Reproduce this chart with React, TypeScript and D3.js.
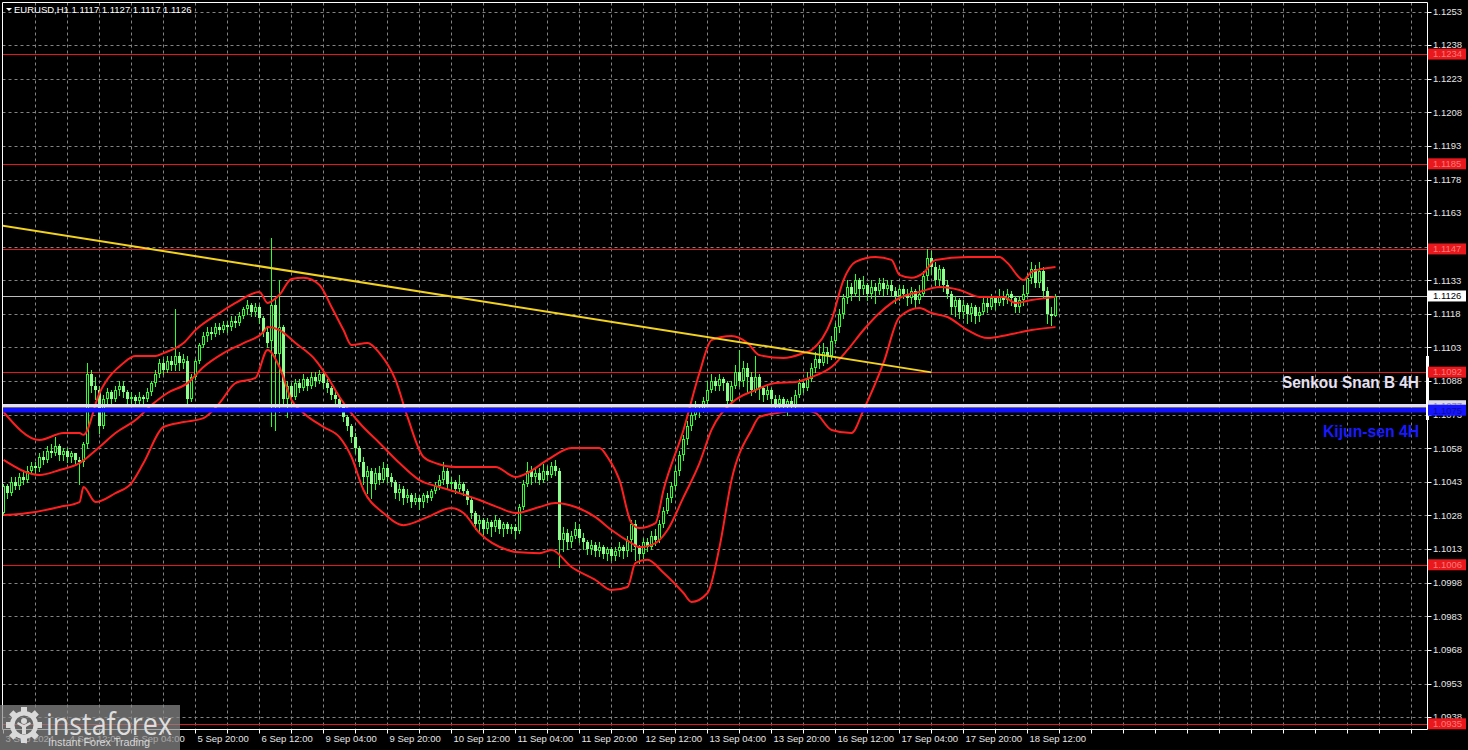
import React, { useEffect } from 'react';
import * as d3 from 'd3';

// ---------- DATA (EURUSD H1, bar index 0 = 3 Sep 20:00) ----------
const opens = [
1.1029,1.1041,1.1038,1.1043,1.1041,1.1045,1.1044,1.1048,1.1050,1.1049,
1.1054,1.1053,1.1057,1.1056,1.1059,1.1055,1.1057,1.1054,1.1056,1.1053,
1.1052,1.1060,1.1091,1.1086,1.1084,1.1068,1.1080,1.1083,1.1080,1.1084,
1.1086,1.1083,1.1080,1.1081,1.1079,1.1081,1.1080,1.1083,1.1087,1.1091,
1.1096,1.1093,1.1097,1.1095,1.1099,1.1096,1.1097,1.1080,1.1090,1.1097,
1.1104,1.1108,1.1110,1.1109,1.1112,1.1111,1.1113,1.1112,1.1115,1.1114,
1.1117,1.1120,1.1122,1.1119,1.1121,1.1116,1.1110,1.1106,1.1122,1.1100,
1.1112,1.1080,1.1086,1.1081,1.1087,1.1085,1.1089,1.1086,1.1090,1.1088,
1.1091,1.1087,1.1085,1.1082,1.1080,1.1077,1.1072,1.1068,1.1063,1.1058,
1.1052,1.1045,1.1048,1.1042,1.1047,1.1044,1.1049,1.1045,1.1043,1.1038,
1.1040,1.1036,1.1037,1.1034,1.1036,1.1034,1.1037,1.1036,1.1039,1.1041,
1.1044,1.1048,1.1042,1.1043,1.1040,1.1042,1.1039,1.1035,1.1029,1.1024,
1.1026,1.1022,1.1025,1.1023,1.1026,1.1022,1.1024,1.1022,1.1023,1.1021,
1.1032,1.1042,1.1048,1.1045,1.1047,1.1044,1.1048,1.1046,1.1050,1.1048,
1.1017,1.1020,1.1016,1.1019,1.1022,1.1018,1.1016,1.1013,1.1015,1.1012,
1.1014,1.1011,1.1013,1.1010,1.1012,1.1014,1.1012,1.1017,1.1024,1.1014,
1.1011,1.1016,1.1014,1.1019,1.1017,1.1024,1.1030,1.1036,1.1041,1.1048,
1.1055,1.1062,1.1068,1.1073,1.1076,1.1075,1.1079,1.1084,1.1088,1.1086,
1.1089,1.1087,1.1079,1.1086,1.1092,1.1088,1.1094,1.1090,1.1084,1.1090,
1.1085,1.1082,1.1084,1.1080,1.1078,1.1080,1.1077,1.1079,1.1077,1.1082,
1.1087,1.1085,1.1089,1.1094,1.1098,1.1096,1.1101,1.1099,1.1106,1.1112,
1.1118,1.1125,1.1130,1.1127,1.1133,1.1129,1.1131,1.1127,1.1130,1.1128,
1.1132,1.1129,1.1131,1.1128,1.1126,1.1129,1.1127,1.1125,1.1128,1.1124,
1.1127,1.1135,1.1143,1.1139,1.1133,1.1138,1.1131,1.1127,1.1121,1.1124,
1.1119,1.1122,1.1118,1.1121,1.1117,1.1119,1.1123,1.1121,1.1125,1.1123,
1.1126,1.1124,1.1127,1.1125,1.1121,1.1124,1.1127,1.1134,1.1138,1.1132,
1.1137,1.1128,1.1118,1.1117];

const highs = [
1.1042,1.1042,1.1045,1.1045,1.1047,1.1048,1.1050,1.1052,1.1052,1.1056,
1.1057,1.1059,1.1060,1.1063,1.1060,1.1058,1.1058,1.1057,1.1056,1.1054,
1.1061,1.1096,1.1093,1.1090,1.1086,1.1082,1.1085,1.1084,1.1086,1.1088,
1.1088,1.1084,1.1083,1.1082,1.1083,1.1082,1.1085,1.1088,1.1093,1.1098,
1.1098,1.1099,1.1099,1.1120,1.1101,1.1100,1.1099,1.1091,1.1098,1.1105,
1.1110,1.1112,1.1112,1.1114,1.1114,1.1115,1.1115,1.1117,1.1117,1.1119,
1.1121,1.1124,1.1123,1.1123,1.1122,1.1117,1.1112,1.1152,1.1125,1.1133,
1.1113,1.1088,1.1087,1.1089,1.1089,1.1091,1.1090,1.1092,1.1092,1.1093,
1.1092,1.1089,1.1086,1.1084,1.1081,1.1078,1.1073,1.1069,1.1065,1.1059,
1.1054,1.1050,1.1049,1.1049,1.1050,1.1052,1.1051,1.1047,1.1044,1.1042,
1.1041,1.1040,1.1038,1.1038,1.1037,1.1038,1.1039,1.1040,1.1043,1.1046,
1.1052,1.1049,1.1045,1.1044,1.1046,1.1043,1.1040,1.1036,1.1030,1.1028,
1.1027,1.1027,1.1026,1.1028,1.1027,1.1025,1.1025,1.1024,1.1024,1.1033,
1.1044,1.1052,1.1050,1.1049,1.1049,1.1051,1.1050,1.1052,1.1053,1.1049,
1.1023,1.1022,1.1021,1.1025,1.1024,1.1020,1.1017,1.1017,1.1016,1.1016,
1.1015,1.1014,1.1014,1.1014,1.1016,1.1015,1.1019,1.1026,1.1026,1.1015,
1.1018,1.1018,1.1021,1.1022,1.1026,1.1032,1.1038,1.1043,1.1050,1.1057,
1.1064,1.1070,1.1075,1.1079,1.1078,1.1081,1.1088,1.1091,1.1090,1.1091,
1.1090,1.1088,1.1088,1.1095,1.1102,1.1097,1.1096,1.1092,1.1099,1.1091,
1.1086,1.1086,1.1085,1.1082,1.1082,1.1081,1.1080,1.1081,1.1084,1.1089,
1.1089,1.1092,1.1096,1.1101,1.1104,1.1105,1.1103,1.1108,1.1114,1.1120,
1.1127,1.1133,1.1132,1.1136,1.1134,1.1135,1.1132,1.1133,1.1132,1.1134,
1.1134,1.1133,1.1133,1.1130,1.1131,1.1131,1.1129,1.1130,1.1129,1.1131,
1.1137,1.1147,1.1146,1.1141,1.1140,1.1139,1.1133,1.1128,1.1126,1.1125,
1.1124,1.1123,1.1123,1.1122,1.1121,1.1125,1.1125,1.1127,1.1126,1.1129,
1.1128,1.1129,1.1128,1.1126,1.1126,1.1131,1.1136,1.1141,1.1140,1.1141,
1.1139,1.1130,1.1121,1.1127];

const lows = [
1.1028,1.1036,1.1037,1.1040,1.1040,1.1042,1.1043,1.1047,1.1047,1.1048,
1.1051,1.1052,1.1054,1.1055,1.1053,1.1053,1.1052,1.1052,1.1051,1.1042,
1.1050,1.1058,1.1083,1.1080,1.1065,1.1067,1.1078,1.1078,1.1079,1.1082,
1.1081,1.1078,1.1078,1.1077,1.1078,1.1078,1.1079,1.1082,1.1086,1.1090,
1.1091,1.1092,1.1093,1.1093,1.1093,1.1094,1.1077,1.1079,1.1089,1.1096,
1.1103,1.1106,1.1107,1.1108,1.1109,1.1110,1.1110,1.1111,1.1112,1.1113,
1.1116,1.1118,1.1117,1.1117,1.1114,1.1108,1.1103,1.1068,1.1066,1.1074,
1.1077,1.1072,1.1078,1.1080,1.1083,1.1084,1.1084,1.1085,1.1086,1.1087,
1.1085,1.1083,1.1080,1.1078,1.1075,1.1070,1.1066,1.1061,1.1056,1.1050,
1.1042,1.1038,1.1036,1.1040,1.1042,1.1043,1.1043,1.1041,1.1036,1.1035,
1.1033,1.1034,1.1032,1.1033,1.1031,1.1032,1.1034,1.1035,1.1038,1.1040,
1.1042,1.1040,1.1040,1.1038,1.1039,1.1037,1.1033,1.1027,1.1022,1.1020,
1.1019,1.1020,1.1019,1.1021,1.1020,1.1019,1.1020,1.1020,1.1018,1.1020,
1.1031,1.1041,1.1042,1.1043,1.1042,1.1043,1.1044,1.1045,1.1046,1.1005,
1.1012,1.1013,1.1014,1.1018,1.1016,1.1013,1.1011,1.1011,1.1010,1.1010,
1.1009,1.1008,1.1008,1.1008,1.1010,1.1009,1.1010,1.1012,1.1008,1.1007,
1.1009,1.1012,1.1013,1.1015,1.1016,1.1023,1.1029,1.1034,1.1040,1.1046,
1.1053,1.1060,1.1066,1.1071,1.1072,1.1074,1.1078,1.1083,1.1084,1.1084,
1.1084,1.1077,1.1078,1.1085,1.1086,1.1086,1.1083,1.1082,1.1083,1.1080,
1.1079,1.1080,1.1077,1.1075,1.1076,1.1074,1.1073,1.1075,1.1076,1.1081,
1.1083,1.1084,1.1088,1.1092,1.1094,1.1095,1.1096,1.1098,1.1105,1.1110,
1.1116,1.1123,1.1124,1.1126,1.1124,1.1127,1.1124,1.1125,1.1123,1.1127,
1.1126,1.1127,1.1126,1.1123,1.1124,1.1125,1.1122,1.1123,1.1121,1.1123,
1.1126,1.1133,1.1136,1.1131,1.1131,1.1128,1.1125,1.1118,1.1117,1.1116,
1.1116,1.1114,1.1115,1.1114,1.1115,1.1118,1.1119,1.1120,1.1120,1.1122,
1.1122,1.1123,1.1122,1.1119,1.1119,1.1122,1.1126,1.1132,1.1130,1.1130,
1.1125,1.1114,1.1113,1.1117];

const closes = [
1.1041,1.1038,1.1043,1.1041,1.1045,1.1044,1.1048,1.1050,1.1049,1.1054,
1.1053,1.1057,1.1056,1.1059,1.1055,1.1057,1.1054,1.1056,1.1053,1.1052,
1.1060,1.1091,1.1086,1.1084,1.1068,1.1080,1.1083,1.1080,1.1084,1.1086,
1.1083,1.1080,1.1081,1.1079,1.1081,1.1080,1.1083,1.1087,1.1091,1.1096,
1.1093,1.1097,1.1095,1.1099,1.1096,1.1098,1.1080,1.1090,1.1097,1.1104,
1.1108,1.1110,1.1109,1.1112,1.1111,1.1113,1.1112,1.1115,1.1114,1.1117,
1.1120,1.1122,1.1119,1.1121,1.1116,1.1110,1.1105,1.1122,1.1100,1.1112,
1.1080,1.1086,1.1081,1.1087,1.1085,1.1089,1.1086,1.1090,1.1088,1.1091,
1.1087,1.1085,1.1082,1.1080,1.1077,1.1072,1.1068,1.1063,1.1058,1.1052,
1.1045,1.1048,1.1042,1.1047,1.1044,1.1049,1.1045,1.1043,1.1038,1.1040,
1.1036,1.1037,1.1034,1.1036,1.1034,1.1037,1.1036,1.1039,1.1041,1.1044,
1.1048,1.1042,1.1043,1.1040,1.1042,1.1039,1.1035,1.1029,1.1024,1.1026,
1.1022,1.1025,1.1023,1.1026,1.1022,1.1024,1.1022,1.1023,1.1021,1.1032,
1.1042,1.1048,1.1045,1.1047,1.1044,1.1048,1.1046,1.1050,1.1048,1.1017,
1.1020,1.1016,1.1019,1.1022,1.1018,1.1016,1.1013,1.1015,1.1012,1.1014,
1.1011,1.1013,1.1010,1.1012,1.1014,1.1012,1.1017,1.1024,1.1014,1.1011,
1.1016,1.1014,1.1019,1.1017,1.1024,1.1030,1.1036,1.1041,1.1048,1.1055,
1.1062,1.1068,1.1073,1.1076,1.1075,1.1079,1.1084,1.1088,1.1086,1.1089,
1.1087,1.1079,1.1086,1.1092,1.1088,1.1094,1.1090,1.1084,1.1090,1.1085,
1.1082,1.1084,1.1080,1.1078,1.1080,1.1077,1.1079,1.1077,1.1082,1.1087,
1.1085,1.1089,1.1094,1.1098,1.1096,1.1101,1.1099,1.1106,1.1112,1.1118,
1.1125,1.1130,1.1127,1.1133,1.1129,1.1131,1.1127,1.1130,1.1128,1.1132,
1.1129,1.1131,1.1128,1.1126,1.1129,1.1127,1.1125,1.1128,1.1124,1.1127,
1.1135,1.1143,1.1139,1.1133,1.1138,1.1131,1.1127,1.1121,1.1124,1.1119,
1.1122,1.1118,1.1121,1.1117,1.1119,1.1123,1.1121,1.1125,1.1123,1.1126,
1.1124,1.1127,1.1125,1.1121,1.1124,1.1127,1.1134,1.1138,1.1132,1.1137,
1.1128,1.1118,1.1117,1.1126];

// Bollinger bands (bar index, price)
const bbUpperIdx = [0,9,15,19,20,24,30,33,38,40,45,48,54,58,64,66,69,72,75,79,82,85,87,91,94,98,101,105,108,113,123,128,131,136,142,149,151,154,157,159,163,165,170,174,177,182,186,189,195,200,202,207,210,213,218,222,224,227,230,233,241,249,251,255,257,263];
const bbUpper = [1.10742,1.10617,1.10648,1.10648,1.10640,1.10827,1.10961,1.10992,1.10992,1.11005,1.11050,1.11108,1.11184,1.11229,1.11278,1.11229,1.11265,1.11336,1.11341,1.11309,1.11211,1.11108,1.11041,1.11050,1.11005,1.10885,1.10720,1.10541,1.10514,1.10497,1.10497,1.10452,1.10470,1.10528,1.10581,1.10581,1.10541,1.10438,1.10246,1.10224,1.10246,1.10394,1.10662,1.10917,1.11063,1.11081,1.11050,1.10996,1.10983,1.11005,1.11019,1.11153,1.11331,1.11412,1.11434,1.11421,1.11354,1.11341,1.11363,1.11421,1.11434,1.11434,1.11407,1.11331,1.11367,1.11389];
const bbMidIdx = [0,9,14,19,24,28,33,37,41,46,50,55,60,65,66,69,73,78,81,84,89,94,99,104,109,114,119,124,128,134,138,143,148,152,157,159,163,166,170,174,177,182,188,193,198,202,207,211,215,219,224,229,234,239,244,250,253,257,263];
const bbMid = [1.10528,1.10461,1.10483,1.10514,1.10586,1.10648,1.10706,1.10773,1.10827,1.10871,1.10943,1.11005,1.11050,1.11099,1.11121,1.11108,1.11050,1.10974,1.10898,1.10809,1.10693,1.10604,1.10514,1.10438,1.10407,1.10380,1.10349,1.10314,1.10291,1.10318,1.10336,1.10318,1.10273,1.10215,1.10157,1.10139,1.10157,1.10215,1.10362,1.10514,1.10662,1.10782,1.10840,1.10871,1.10876,1.10898,1.10943,1.11019,1.11108,1.11184,1.11251,1.11278,1.11300,1.11287,1.11256,1.11256,1.11229,1.11242,1.11256];
const bbLowerIdx = [0,8,14,19,20,23,28,32,35,40,45,50,54,58,63,66,69,72,75,80,84,87,90,95,100,106,112,115,119,126,128,134,137,142,148,152,156,158,161,165,170,172,176,179,182,187,189,195,200,203,207,212,215,220,224,229,232,236,241,246,251,257,263];
const bbLower = [1.10282,1.10296,1.10318,1.10340,1.10407,1.10340,1.10380,1.10425,1.10514,1.10675,1.10697,1.10715,1.10782,1.10871,1.10894,1.11019,1.10943,1.10796,1.10738,1.10675,1.10630,1.10541,1.10394,1.10291,1.10237,1.10273,1.10314,1.10291,1.10202,1.10126,1.10117,1.10112,1.10126,1.10050,1.09992,1.09947,1.09961,1.10068,1.10082,1.10024,1.09934,1.09894,1.09934,1.10139,1.10438,1.10662,1.10720,1.10742,1.10751,1.10738,1.10662,1.10648,1.10751,1.10961,1.11166,1.11206,1.11184,1.11166,1.11108,1.11072,1.11086,1.11108,1.11121];

// Trend line anchors (bar index, price)
const trendIdx = [-1, 232];
const trendPrice = [1.11576, 1.10919];

// Horizontal levels
const redLevels = [1.1234, 1.1185, 1.1147, 1.1092, 1.1006, 1.0935];
const redLevelLabels = ['1.1234', '1.1185', '1.1147', '1.1092', '1.1006', '1.0935'];
const currentPrice = 1.1126;
const senkouB = 1.1077;
const kijun = 1.1075;

// Axis ticks
const yTickValues = [1.1253,1.1238,1.1223,1.1208,1.1193,1.1178,1.1163,1.1148,1.1133,1.1118,1.1103,1.1088,1.1073,1.1058,1.1043,1.1028,1.1013,1.0998,1.0983,1.0968,1.0953,1.0938];
const xTickBars = [0,16,32,48,64,80,96,112,128,144,160,176,192,208,224,240,256];
const xTickLabels = ['3 Sep 2024','4 Sep 12:00','5 Sep 04:00','5 Sep 20:00','6 Sep 12:00','9 Sep 04:00','9 Sep 20:00','10 Sep 12:00','11 Sep 04:00','11 Sep 20:00','12 Sep 12:00','13 Sep 04:00','13 Sep 20:00','16 Sep 12:00','17 Sep 04:00','17 Sep 20:00','18 Sep 12:00'];

const TITLE = 'EURUSD,H1  1.1117 1.1127 1.1117 1.1126';

// ---------- LAYOUT ----------
const W = 1468;
const H = 750;
const L = 2.5, R = 1427.5, T = 2.5, B = 729.5;
const FONT = '"Liberation Sans", Arial, sans-serif';
const GREEN = '#2cff2c';
const BEAR_FILL = '#8cff8c';
const RED = '#ff1f1f';

const x = d3.scaleLinear().domain([0, 1]).range([3.5, 7.5]);
const y = d3.scaleLinear().domain([1.1253, 1.0953]).range([11.5, 683.5]);
const fmt = d3.format('.4f');

function bandPath(idx: number[], vals: number[]) {
  const line = d3.line<number>()
    .x((_, i) => x(idx[i]))
    .y((v) => y(v))
    .curve(d3.curveMonotoneX);
  return line(vals) || '';
}

function Gear() {
  const cx = 24, cy = 725;
  const teeth = d3.range(8).map((k) => (k * 360) / 8);
  const ring = d3.arc()({ innerRadius: 9.5, outerRadius: 14, startAngle: 0, endAngle: 2 * Math.PI }) || '';
  return (
    <g transform={`translate(${cx},${cy})`} fill="#d9d9d9">
      <path d={ring} />
      {teeth.map((a) => (
        <rect key={a} x={-3} y={-18} width={6} height={6} transform={`rotate(${a})`} />
      ))}
      <circle cx={0} cy={-4} r={3} />
      <path d="M-7,-1 L-2,2 L-2,9 L2,9 L2,2 L7,-1 L6,-3 L0,0 L-6,-3 Z" />
    </g>
  );
}

export default function App() {
  useEffect(() => {
    document.body.style.margin = '0';
    document.body.style.background = '#000';
  }, []);

  const bars = closes.map((c, i) => ({ i, o: opens[i], h: highs[i], l: lows[i], c }));
  const vGrid = d3.range(8, 356, 8).map((b) => x(b));
  const vTicks = d3.range(0, 356, 8).map((b) => x(b));

  const labelBox = (price: number, text: string, bg: string, fg: string, key: string) => {
    const yy = y(price);
    return (
      <g key={key}>
        <rect x={1428} y={yy - 5.5} width={38} height={11} fill={bg} />
        <text x={1433} y={yy} dy="0.35em" fontSize={9.5} fontFamily={FONT} fill={fg}>{text}</text>
      </g>
    );
  };

  return (
    <svg width={W} height={H} style={{ position: 'absolute', left: 0, top: 0, background: '#000', display: 'block' }}>
      <defs>
        <clipPath id="plot">
          <rect x={L + 0.5} y={T + 0.5} width={R - L - 1} height={B - T - 1} />
        </clipPath>
      </defs>
      <rect x={0} y={0} width={W} height={H} fill="#000" />

      {/* grid */}
      <g stroke="#9a9a9a" strokeWidth={1} strokeDasharray="3,3" opacity={0.85}>
        {yTickValues.map((v) => (
          <line key={'hg' + v} x1={L} x2={R} y1={Math.round(y(v)) + 0.5} y2={Math.round(y(v)) + 0.5} />
        ))}
        {vGrid.map((gx) => (
          <line key={'vg' + gx} x1={gx} x2={gx} y1={T} y2={B} />
        ))}
      </g>

      <g clipPath="url(#plot)">
        {/* red levels */}
        {redLevels.map((v) => (
          <line key={'rl' + v} x1={L} x2={R} y1={Math.round(y(v)) + 0.5} y2={Math.round(y(v)) + 0.5} stroke="#e01a1a" strokeWidth={1} />
        ))}
        {/* current price line */}
        <line x1={L} x2={R} y1={Math.round(y(currentPrice)) + 0.5} y2={Math.round(y(currentPrice)) + 0.5} stroke="#bdbdbd" strokeWidth={1} />

        {/* candles */}
        {bars.map((b) => {
          const cx = x(b.i);
          const top = Math.round(y(Math.max(b.o, b.c)));
          const bot = Math.round(y(Math.min(b.o, b.c)));
          const bull = b.c > b.o;
          return (
            <g key={'c' + b.i}>
              <line x1={cx} x2={cx} y1={Math.round(y(b.h))} y2={Math.round(y(b.l)) + 1} stroke={GREEN} strokeWidth={1} />
              {bull ? (
                <rect x={cx - 1} y={top + 0.5} width={2} height={Math.max(bot - top - 1, 0.5)} fill="#000" stroke={GREEN} strokeWidth={1} />
              ) : (
                <rect x={cx - 1.5} y={top} width={3} height={Math.max(bot - top, 1)} fill={BEAR_FILL} stroke="none" />
              )}
            </g>
          );
        })}

        {/* Bollinger bands */}
        <g fill="none" stroke={RED} strokeWidth={2} strokeLinejoin="round">
          <path d={bandPath(bbUpperIdx, bbUpper)} />
          <path d={bandPath(bbMidIdx, bbMid)} />
          <path d={bandPath(bbLowerIdx, bbLower)} />
        </g>

        {/* trend line */}
        <line x1={x(trendIdx[0])} y1={y(trendPrice[0])} x2={x(trendIdx[1])} y2={y(trendPrice[1])} stroke="#f2d21e" strokeWidth={2} />

        {/* Senkou Span B / Kijun-sen */}
        <line x1={L} x2={R} y1={y(senkouB)} y2={y(senkouB)} stroke="#e4def4" strokeWidth={3.5} />
        <line x1={L} x2={R} y1={y(kijun)} y2={y(kijun)} stroke="#1111ff" strokeWidth={4.5} />

        <text x={1419} y={388} textAnchor="end" fontFamily={FONT} fontWeight="bold" fontSize={17} fill="#e6e0f2" textLength={137} lengthAdjust="spacingAndGlyphs">Senkou Snan B 4H</text>
        <text x={1419} y={437} textAnchor="end" fontFamily={FONT} fontWeight="bold" fontSize={17} fill="#1a1aff" textLength={96} lengthAdjust="spacingAndGlyphs">Kijun-sen 4H</text>
      </g>

      {/* frame */}
      <g stroke="#ffffff" strokeWidth={1} fill="none">
        <line x1={L} x2={L} y1={T} y2={B} />
        <line x1={R} x2={R} y1={T} y2={B} />
        <line x1={L} x2={R} y1={B} y2={B} />
        <line x1={L} x2={R} y1={T} y2={T} />
      </g>
      <rect x={1426} y={356} width={3} height={64} fill="#ffffff" />

      {/* y axis */}
      {yTickValues.map((v) => (
        <g key={'yt' + v}>
          <line x1={R} x2={R + 4} y1={Math.round(y(v)) + 0.5} y2={Math.round(y(v)) + 0.5} stroke="#ffffff" />
          <text x={1433} y={y(v)} dy="0.35em" fontSize={9.5} fontFamily={FONT} fill="#e6e6e6">{fmt(v)}</text>
        </g>
      ))}

      {/* x axis */}
      {vTicks.map((tx) => (
        <line key={'xt' + tx} x1={tx} x2={tx} y1={B} y2={B + 4} stroke="#ffffff" />
      ))}
      {xTickBars.map((b, k) => (
        <text key={'xl' + b} x={x(b) + 2} y={742} fontSize={9.5} fontFamily={FONT} fill="#e6e6e6">{xTickLabels[k]}</text>
      ))}

      {/* price labels on the axis */}
      {redLevels.map((v, k) => labelBox(v, redLevelLabels[k], '#e8181c', '#ff7a7a', 'rb' + v))}
      {labelBox(senkouB, fmt(senkouB), '#dcd8ee', '#8a88a0', 'sb')}
      {labelBox(kijun, fmt(kijun), '#1515ff', '#0a0aa0', 'kj')}
      {labelBox(currentPrice, fmt(currentPrice), '#ffffff', '#000000', 'cp')}

      {/* title */}
      <path d="M6,8 L12,8 L9,11 Z" fill="#ffffff" />
      <text x={14} y={13} fontSize={9.5} fontFamily={FONT} fill="#ffffff">{TITLE}</text>

      {/* watermark */}
      <rect x={0} y={705} width={180} height={45} fill="#8a8a8a" opacity={0.72} />
      <Gear />
      <text x={46} y={735} fontSize={31} fontFamily='"Open Sans", "Liberation Sans", sans-serif' fill="#dedede" textLength={126} lengthAdjust="spacingAndGlyphs">instaforex</text>
      <text x={48} y={746} fontSize={10.5} fontFamily={FONT} fill="#d6d6d6" textLength={102} lengthAdjust="spacingAndGlyphs">Instant Forex Trading</text>
    </svg>
  );
}
